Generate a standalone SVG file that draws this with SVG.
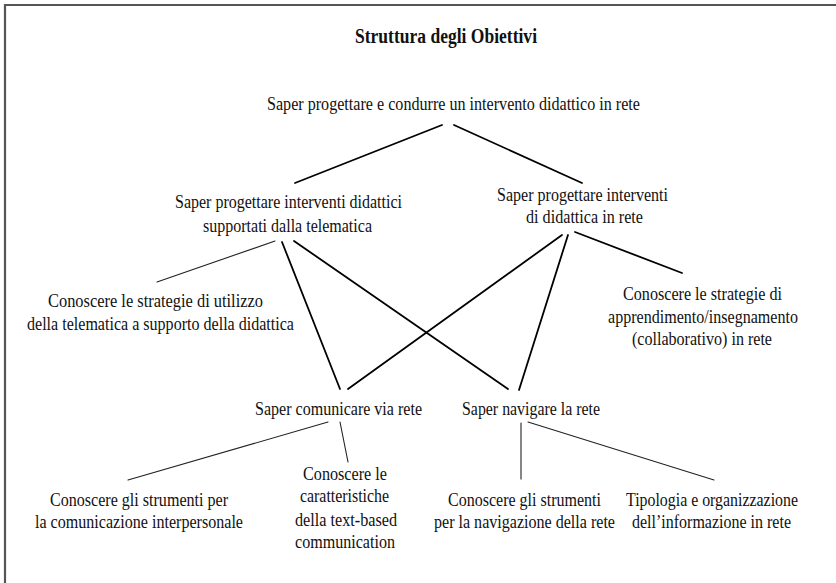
<svg xmlns="http://www.w3.org/2000/svg" width="836" height="583" viewBox="0 0 836 583" font-family="Liberation Serif, serif" font-size="18">
<style>
text{fill:#111}
.title{font-weight:bold;font-size:20px}
.thick{stroke:#000;stroke-width:1.8;fill:none;stroke-linecap:round}
.thin{stroke:#222;stroke-width:1.1;fill:none;stroke-linecap:round}
.frame{stroke:#555;stroke-width:2.2;fill:none}
</style>
<rect width="836" height="583" fill="#fff"/>
<path class="frame" d="M5,583 V5 H836"/>
<g id="title"><text class="title" x="355" y="43" textLength="182" lengthAdjust="spacingAndGlyphs">Struttura degli Obiettivi</text></g>
<g id="connectors">
<line class="thick" x1="442" y1="125" x2="295" y2="183"/>
<line class="thick" x1="454" y1="125" x2="582" y2="183"/>
<line class="thin" x1="275" y1="241" x2="157" y2="282"/>
<line class="thick" x1="282" y1="242" x2="340" y2="389"/>
<line class="thick" x1="294" y1="241" x2="508" y2="389"/>
<line class="thick" x1="562" y1="235" x2="348" y2="389"/>
<line class="thick" x1="568" y1="235" x2="519" y2="390"/>
<line class="thick" x1="575" y1="232" x2="682" y2="273"/>
<line class="thin" x1="328" y1="422" x2="128" y2="480"/>
<line class="thin" x1="340" y1="422" x2="348" y2="462"/>
<line class="thin" x1="521" y1="423" x2="521" y2="479"/>
<line class="thin" x1="528" y1="422" x2="714" y2="480"/>
</g>
<g id="n-root"><text x="267" y="110" textLength="373" lengthAdjust="spacingAndGlyphs">Saper progettare e condurre un intervento didattico in rete</text></g>
<g id="n-telematica">
<text x="175" y="208" textLength="227" lengthAdjust="spacingAndGlyphs">Saper progettare interventi didattici</text>
<text x="203" y="232" textLength="169" lengthAdjust="spacingAndGlyphs">supportati dalla telematica</text>
</g>
<g id="n-didattica-rete">
<text x="497" y="201" textLength="171" lengthAdjust="spacingAndGlyphs">Saper progettare interventi</text>
<text x="526" y="223" textLength="117" lengthAdjust="spacingAndGlyphs">di didattica in rete</text>
</g>
<g id="n-strategie-utilizzo">
<text x="48" y="307" textLength="215" lengthAdjust="spacingAndGlyphs">Conoscere le strategie di utilizzo</text>
<text x="27" y="330" textLength="267" lengthAdjust="spacingAndGlyphs">della telematica a supporto della didattica</text>
</g>
<g id="n-strategie-apprendimento">
<text x="623" y="300" textLength="159" lengthAdjust="spacingAndGlyphs">Conoscere le strategie di</text>
<text x="608" y="323" textLength="190" lengthAdjust="spacingAndGlyphs">apprendimento/insegnamento</text>
<text x="632" y="345" textLength="140" lengthAdjust="spacingAndGlyphs">(collaborativo) in rete</text>
</g>
<g id="n-comunicare"><text x="255" y="415" textLength="167" lengthAdjust="spacingAndGlyphs">Saper comunicare via rete</text></g>
<g id="n-navigare"><text x="462" y="415" textLength="138" lengthAdjust="spacingAndGlyphs">Saper navigare la rete</text></g>
<g id="n-strumenti-comunicazione">
<text x="50" y="506" textLength="178" lengthAdjust="spacingAndGlyphs">Conoscere gli strumenti per</text>
<text x="35" y="528" textLength="208" lengthAdjust="spacingAndGlyphs">la comunicazione interpersonale</text>
</g>
<g id="n-text-based">
<text x="303" y="480" textLength="84" lengthAdjust="spacingAndGlyphs">Conoscere le</text>
<text x="300" y="502" textLength="89" lengthAdjust="spacingAndGlyphs">caratteristiche</text>
<text x="295" y="526" textLength="102" lengthAdjust="spacingAndGlyphs">della text-based</text>
<text x="295" y="548" textLength="100" lengthAdjust="spacingAndGlyphs">communication</text>
</g>
<g id="n-strumenti-navigazione">
<text x="448" y="506" textLength="153" lengthAdjust="spacingAndGlyphs">Conoscere gli strumenti</text>
<text x="434" y="528" textLength="181" lengthAdjust="spacingAndGlyphs">per la navigazione della rete</text>
</g>
<g id="n-tipologia">
<text x="626" y="506" textLength="172" lengthAdjust="spacingAndGlyphs">Tipologia e organizzazione</text>
<text x="632" y="528" textLength="159" lengthAdjust="spacingAndGlyphs">dell’informazione in rete</text>
</g>
</svg>
